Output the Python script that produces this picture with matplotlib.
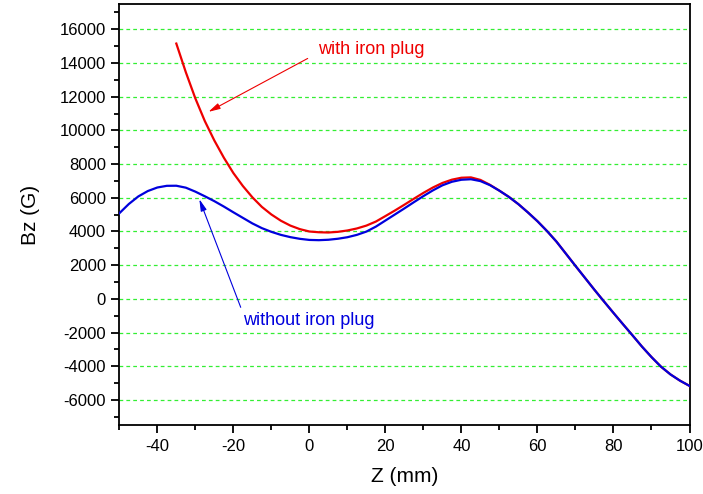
import numpy as np
import matplotlib
matplotlib.use("Agg")
import matplotlib.pyplot as plt
from matplotlib.ticker import MultipleLocator

plt.rcParams['font.family'] = ['Liberation Sans', 'DejaVu Sans']
plt.rcParams['axes.unicode_minus'] = False

# =============================================================================
# data (Z in mm, Bz in G)
# =============================================================================
z_without = [-50, -47.5, -45, -42.5, -40, -37.5, -35, -32.5, -30, -27.5, -25, -22.5,
             -20, -17.5, -15, -12.5, -10, -7.5, -5, -2.5, 0, 2.5, 5, 7.5, 10, 12.5,
             15, 17.5, 20, 22.5, 25, 27.5, 30, 32.5, 35, 37.5, 40, 42.5, 45, 47.5,
             50, 52.5, 55, 57.5, 60, 62.5, 65, 67.5, 70, 72.5, 75, 77.5, 80, 82.5,
             85, 87.5, 90, 92.5, 95, 97.5, 100]
bz_without = [5080, 5630, 6080, 6400, 6610, 6710, 6715, 6600, 6365, 6090, 5800, 5480,
              5140, 4810, 4480, 4200, 3980, 3800, 3665, 3565, 3500, 3485, 3510, 3570,
              3660, 3800, 3995, 4290, 4650, 5010, 5370, 5740, 6100, 6440, 6740, 6950,
              7070, 7100, 6990, 6750, 6420, 6050, 5620, 5130, 4610, 4030, 3400, 2680,
              1960, 1250, 540, -150, -830, -1500, -2160, -2830, -3450, -4020, -4480,
              -4850, -5160]

z_with = [-35, -32.5, -30, -27.5, -25, -22.5, -20, -17.5, -15, -12.5, -10, -7.5, -5,
          -2.5, 0, 2.5, 5, 7.5, 10, 12.5, 15, 17.5, 20, 22.5, 25, 27.5, 30, 32.5, 35,
          37.5, 40, 42.5, 45, 47.5, 50, 52.5, 55, 57.5, 60, 62.5, 65, 67.5, 70, 72.5,
          75, 77.5, 80, 82.5, 85, 87.5, 90, 92.5, 95, 97.5, 100]
bz_with = [15150, 13450, 11900, 10550, 9400, 8380, 7470, 6700, 6030, 5460, 5010, 4640,
           4350, 4140, 4000, 3955, 3940, 3980, 4060, 4180, 4350, 4590, 4915, 5245, 5590,
           5945, 6290, 6610, 6880, 7075, 7190, 7210, 7060, 6770, 6420, 6050, 5620, 5130,
           4610, 4030, 3400, 2680, 1960, 1250, 540, -150, -830, -1500, -2160, -2830,
           -3450, -4020, -4480, -4850, -5160]

label_with = "with iron plug"
label_without = "without iron plug"

# =============================================================================
# plot
# =============================================================================
fig = plt.figure(figsize=(7.03, 4.94), dpi=100)
ax = fig.add_axes([0.1697, 0.139, 0.9808 - 0.1697, 0.992 - 0.139])

ax.plot(z_with, bz_with, color='#ee0000', lw=1.6, zorder=3)
ax.plot(z_without, bz_without, color='#0000dd', lw=1.6, zorder=4)

ax.set_xlim(-50, 100)
ax.set_ylim(-7500, 17500)
ax.xaxis.set_major_locator(MultipleLocator(20))
ax.xaxis.set_minor_locator(MultipleLocator(10))
ax.yaxis.set_major_locator(MultipleLocator(2000))
ax.yaxis.set_minor_locator(MultipleLocator(1000))
ax.tick_params(which='both', direction='out', top=False, right=False,
               width=1.3, labelsize=12)
ax.tick_params(which='major', length=6)
ax.tick_params(which='minor', length=3.5)
for s in ax.spines.values():
    s.set_linewidth(1.3)

# dashed green lines at the major y ticks
ax.yaxis.grid(True, which='major', color='#33ee33', lw=0.9, ls=(0, (3, 2.5)))
ax.set_axisbelow(True)

ax.set_xlabel("Z (mm)", fontsize=15, labelpad=10)
ax.set_ylabel("Bz (G)", fontsize=15, labelpad=14)

# annotations
ax.text(2.3, 14780, label_with, color='#ee0000', fontsize=13, va='center')
ax.annotate('', xy=(-27.2, 11020), xytext=(0.2, 14345),
            arrowprops=dict(arrowstyle='-|>,head_length=0.7,head_width=0.18',
                            color='#ee0000', lw=0.8))
ax.text(-17.5, -1306, label_without, color='#0000dd', fontsize=13, va='center')
ax.annotate('', xy=(-29.2, 6070), xytext=(-17.8, -653),
            arrowprops=dict(arrowstyle='-|>,head_length=0.7,head_width=0.18',
                            color='#0000dd', lw=0.8))

fig.savefig("out.png", dpi=100)
